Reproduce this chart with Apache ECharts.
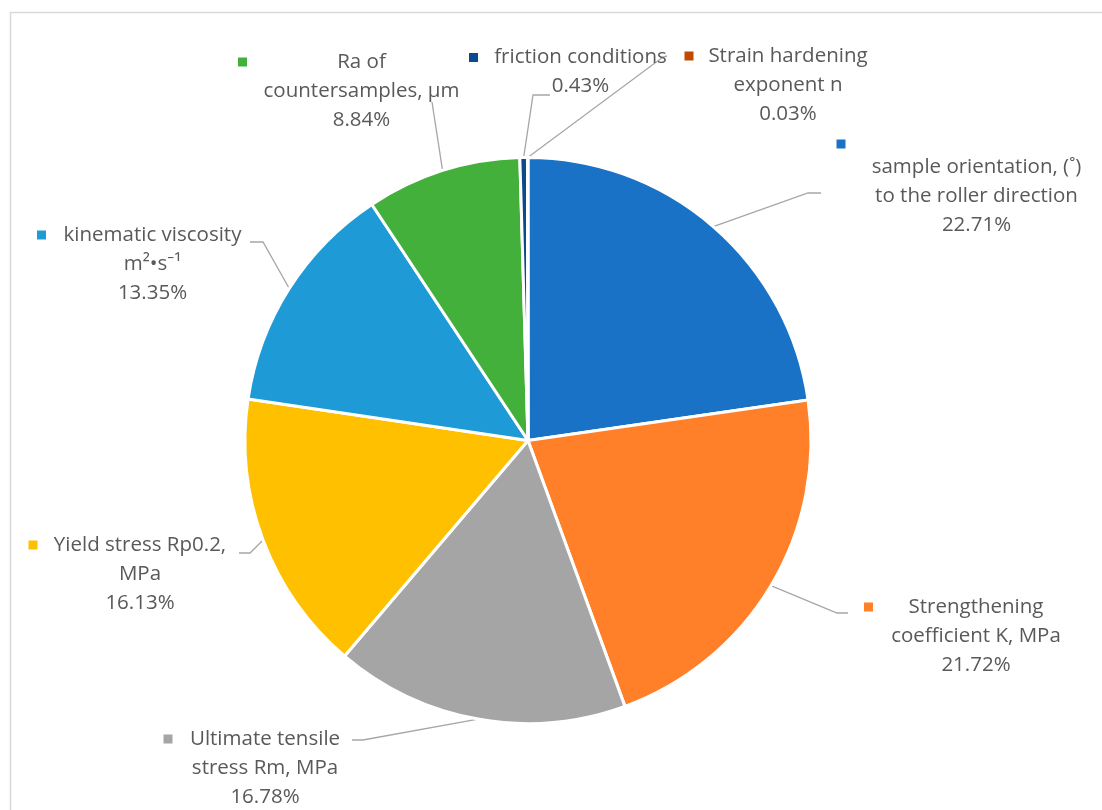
<!DOCTYPE html>
<html>
<head>
<meta charset="utf-8">
<script src="https://cdn.jsdelivr.net/npm/echarts@6/dist/echarts.min.js"></script>
<style>
  html, body { margin: 0; padding: 0; background: #ffffff; }
  #chart { width: 1102px; height: 810px; }
</style>
</head>
<body>
<div id="chart"></div>
<script>
// Factor shares (%), clockwise from 12 o'clock
const categories = [
  'sample orientation, (˚)\nto the roller direction',
  'Strengthening\ncoefficient K, MPa',
  'Ultimate tensile\nstress Rm, MPa',
  'Yield stress Rp0.2,\nMPa',
  'kinematic viscosity\nm²•s⁻¹',
  'Ra of\ncountersamples, µm',
  'friction conditions',
  'Strain hardening\nexponent n'
];
const shares = [22.71, 21.72, 16.78, 16.13, 13.35, 8.84, 0.43, 0.03];

const colors = ['#1A72C6', '#FF8028', '#A5A5A5', '#FFC000', '#1E9BD7', '#43B03C', '#0B4A8B', '#C04B00'];

// Label boxes: [left, top, width]
const labelBoxes = [
  [836.5, 135, 264],
  [864, 592.5, 208],
  [163.5, 724.5, 187],
  [28.5, 530.5, 207],
  [37, 220.5, 215],
  [238, 47.5, 231],
  [469, 43, 207],
  [684.5, 41.5, 191]
];
// Leader line bend and end points, after the slice edge point
const leaderTails = [
  [[808, 193], [821, 193]],
  [[837, 613], [848, 613]],
  [[363, 740], [352, 740]],
  [[250, 553], [239, 553]],
  [[263, 242], [250, 242]],
  [[432, 102], [432, 102]],
  [[533, 95], [550, 95]],
  [[663, 57], [667, 56]]
];
// Legend key sits on its own line for the first label
const keyOwnLine = [true, false, false, false, false, false, false, false];

const FONT = '"Open Sans", "Noto Sans", sans-serif';
const FS = 20.5;
const LH = 29;
const TXT = '#595959';

const items = categories.map((name, i) => {
  const lines = name.split('\n').concat([shares[i].toFixed(2) + '%']);
  let parts = [];
  if (keyOwnLine[i]) {
    parts.push('{mt|}');
    lines.forEach(l => parts.push('{sp|}{t|' + l + '}'));
  } else {
    parts.push('{m|}{g|}{t|' + lines[0] + '}');
    lines.slice(1).forEach(l => parts.push('{sp|}{t|' + l + '}'));
  }
  return {
    name: name.replace(/\n/g, ' '),
    value: shares[i],
    itemStyle: { color: colors[i] },
    label: {
      formatter: parts.join('\n'),
      width: labelBoxes[i][2],
      overflow: 'none',
      rich: {
        m: { width: 9, height: 9, backgroundColor: colors[i], align: 'left', lineHeight: LH },
        mt: { width: 9, height: 9, backgroundColor: colors[i], align: 'left', lineHeight: 18 },
        g: { width: 7, align: 'left', lineHeight: LH },
        sp: { width: 16, align: 'left', lineHeight: LH },
        t: { align: 'center', fontFamily: FONT, fontSize: FS, color: TXT, lineHeight: LH }
      }
    }
  };
});

const chart = echarts.init(document.getElementById('chart'), null, { renderer: 'canvas' });
chart.setOption({
  animation: false,
  backgroundColor: '#ffffff',
  graphic: [{
    type: 'rect',
    shape: { x: 10.5, y: 12.5, width: 1300, height: 1000 },
    style: { fill: 'none', stroke: '#D9D9D9', lineWidth: 1.5 },
    silent: true,
    z: -10
  }],
  series: [{
    type: 'pie',
    center: [528, 440.5],
    radius: [0, 283],
    startAngle: 90,
    clockwise: true,
    avoidLabelOverlap: false,
    itemStyle: { borderColor: '#ffffff', borderWidth: 3 },
    emphasis: { disabled: true },
    label: {
      show: true,
      position: 'outside',
      fontFamily: FONT,
      fontSize: FS,
      color: TXT
    },
    labelLine: {
      show: true,
      length: 20,
      length2: 10,
      smooth: false,
      lineStyle: { color: '#A6A6A6', width: 1.3 }
    },
    labelLayout: function (params) {
      const i = params.dataIndex;
      const start = params.labelLinePoints ? params.labelLinePoints[0] : null;
      const out = {
        x: labelBoxes[i][0],
        y: labelBoxes[i][1],
        align: 'left',
        verticalAlign: 'top'
      };
      if (start) {
        out.labelLinePoints = [start].concat(leaderTails[i]);
      }
      return out;
    },
    data: items
  }]
});
</script>
</body>
</html>
